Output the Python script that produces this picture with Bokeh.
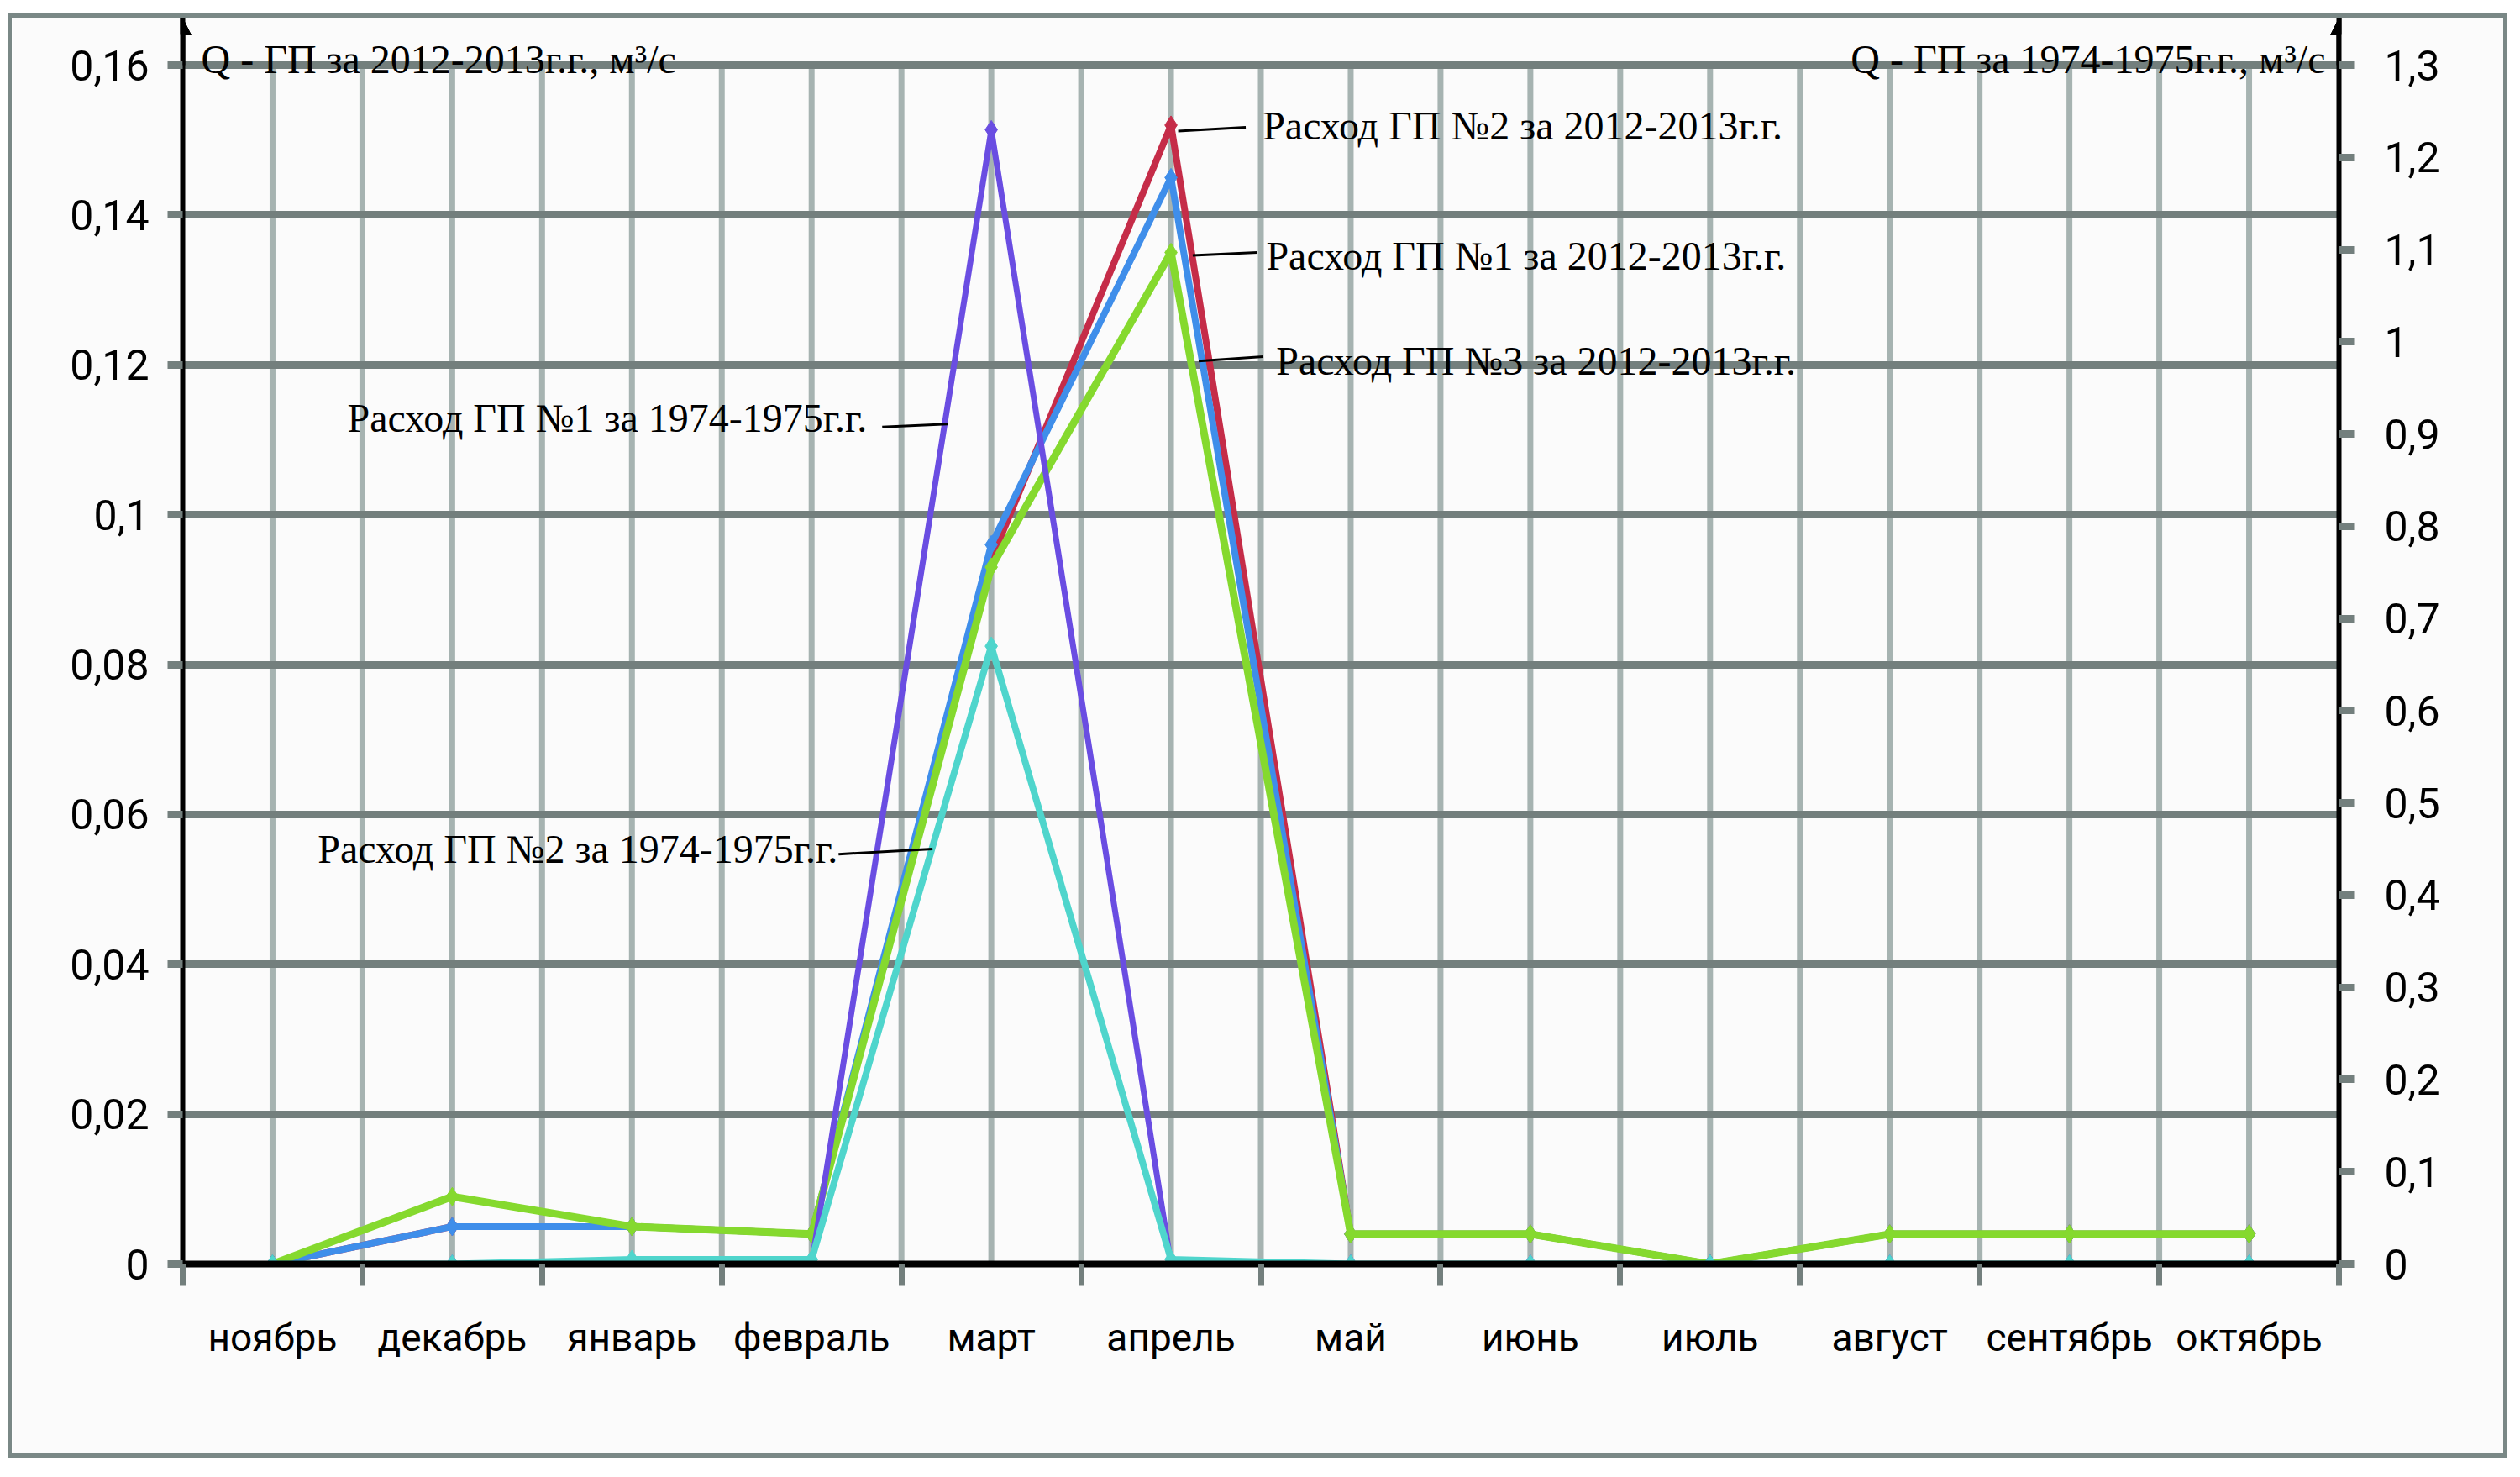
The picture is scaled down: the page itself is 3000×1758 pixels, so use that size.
from bokeh.plotting import figure
from bokeh.models import (Range1d, LinearAxis, FixedTicker, Arrow, NormalHead)
from bokeh.core.properties import value
from bokeh.embed import file_html
from bokeh.resources import INLINE

# ---------------- data ----------------
months = ["ноябрь", "декабрь", "январь", "февраль", "март", "апрель",
          "май", "июнь", "июль", "август", "сентябрь", "октябрь"]

# 2012-2013 (left axis, m3/s)
gp1_2012 = [0, 0.005, 0.005, 0.004, 0.096, 0.145, 0.004, 0.004, 0, 0.004, 0.004, 0.004]
gp2_2012 = [0, 0.005, 0.005, 0.004, 0.094, 0.152, 0.004, 0.004, 0, 0.004, 0.004, 0.004]
gp3_2012 = [0, 0.009, 0.005, 0.004, 0.093, 0.135, 0.004, 0.004, 0, 0.004, 0.004, 0.004]
# 1974-1975 (right axis, m3/s)
gp1_1974 = [0, 0, 0, 0, 1.23, 0, 0, 0, 0, 0, 0, 0]
gp2_1974 = [0, 0, 0.005, 0.005, 0.67, 0.005, 0, 0, 0, 0, 0, 0]

left_ticks = [0, 0.02, 0.04, 0.06, 0.08, 0.1, 0.12, 0.14, 0.16]
left_labels = ["0", "0,02", "0,04", "0,06", "0,08", "0,1", "0,12", "0,14", "0,16"]
right_ticks = [0, 0.1, 0.2, 0.3, 0.4, 0.5, 0.6, 0.7, 0.8, 0.9, 1.0, 1.1, 1.2, 1.3]
right_labels = ["0", "0,1", "0,2", "0,3", "0,4", "0,5", "0,6", "0,7", "0,8", "0,9",
                "1", "1,1", "1,2", "1,3"]

left_title = "Q - ГП за 2012-2013г.г., м³/с"
right_title = "Q - ГП за 1974-1975г.г., м³/с"

series_names = ["Расход ГП №2 за 2012-2013г.г.", "Расход ГП №1 за 2012-2013г.г.",
                "Расход ГП №3 за 2012-2013г.г.", "Расход ГП №1 за 1974-1975г.г.",
                "Расход ГП №2 за 1974-1975г.г."]

# ---------------- layout / style ----------------
x = list(range(len(months)))
LEFT_MAX = 0.16
RIGHT_MAX = 1.3
top_pad = 1.0393  # frame extends a little above the top gridline (room for titles/arrows)

DARK = "#737f7d"
LIGHT = "#a6b3b1"
BG = "#fbfbfb"
TICK_FONT = "Roboto"
SERIF = "Liberation Serif"

p = figure(width=2976, height=1719, output_backend="svg", toolbar_location=None,
           x_range=Range1d(-0.5, len(months) - 0.5),
           y_range=Range1d(0, LEFT_MAX * top_pad),
           min_border_left=203, min_border_right=206,
           min_border_top=0, min_border_bottom=236,
           background_fill_color=BG, border_fill_color=BG, outline_line_color=None)
p.margin = (16, 0, 0, 9)
p.styles = {"border": "5px solid #7a8886"}
p.extra_y_ranges = {"r": Range1d(0, RIGHT_MAX * top_pad)}

# x axis
xa = p.xaxis[0]
xa.ticker = FixedTicker(ticks=x, minor_ticks=[i - 0.5 for i in range(len(months) + 1)])
xa.major_label_overrides = {i: m for i, m in enumerate(months)}
xa.major_tick_out = 0
xa.major_tick_in = 0
xa.minor_tick_out = 26
xa.minor_tick_in = 0
xa.minor_tick_line_color = DARK
xa.minor_tick_line_width = 7
xa.axis_line_color = "black"
xa.axis_line_width = 8
xa.major_label_text_font = TICK_FONT
xa.major_label_text_font_size = "46px"
xa.major_label_text_color = "black"
xa.major_label_standoff = 34

# left axis
ya = p.yaxis[0]
ya.ticker = FixedTicker(ticks=left_ticks)
ya.major_label_overrides = dict(zip(left_ticks, left_labels))
ya.major_tick_out = 18
ya.major_tick_in = 0
ya.major_tick_line_color = DARK
ya.major_tick_line_width = 9
ya.minor_tick_out = 0
ya.minor_tick_in = 0
ya.axis_line_color = "black"
ya.axis_line_width = 6
ya.major_label_text_font = TICK_FONT
ya.major_label_text_font_size = "50px"
ya.major_label_text_color = "black"
ya.major_label_standoff = 22

# right axis
ra = LinearAxis(y_range_name="r")
ra.ticker = FixedTicker(ticks=right_ticks)
ra.major_label_overrides = dict(zip(right_ticks, right_labels))
ra.major_tick_out = 18
ra.major_tick_in = 0
ra.major_tick_line_color = DARK
ra.major_tick_line_width = 9
ra.minor_tick_out = 0
ra.minor_tick_in = 0
ra.axis_line_color = "black"
ra.axis_line_width = 6
ra.major_label_text_font = TICK_FONT
ra.major_label_text_font_size = "50px"
ra.major_label_text_color = "black"
ra.major_label_standoff = 36
p.add_layout(ra, "right")

# grids
p.xgrid.visible = False
p.ygrid.ticker = FixedTicker(ticks=left_ticks)
p.ygrid.grid_line_color = DARK
p.ygrid.grid_line_width = 9

# vertical grid lines (every half category), only up to the top gridline
vx = [i * 0.5 - 0.5 for i in range(1, 2 * len(months))]
p.segment(x0=vx, y0=[0] * len(vx), x1=vx, y1=[LEFT_MAX] * len(vx),
          line_color=LIGHT, line_width=7, level="underlay")

# axis arrows
for xe in (-0.5, len(months) - 0.5):
    p.add_layout(Arrow(end=NormalHead(size=20, fill_color="black", line_color="black"),
                       x_start=xe, y_start=LEFT_MAX, x_end=xe, y_end=LEFT_MAX * top_pad,
                       line_color="black", line_width=6))

# axis titles
p.text(x=[-0.5], y=[LEFT_MAX], text=[left_title], x_offset=22, y_offset=-7,
       text_font=value(SERIF), text_font_size="48px", text_color="black",
       text_align="left", text_baseline="alphabetic")
p.text(x=[len(months) - 0.5], y=[LEFT_MAX], text=[right_title], x_offset=-16, y_offset=-7,
       text_font=value(SERIF), text_font_size="48px", text_color="black",
       text_align="right", text_baseline="alphabetic")

# ---------------- series ----------------
series = [
    (gp2_2012, "#c52c48", "default", 8),
    (gp1_2012, "#3f8eea", "default", 8),
    (gp3_2012, "#85d92e", "default", 9),
    (gp1_1974, "#6a4de2", "r", 7),
    (gp2_1974, "#4fd5cc", "r", 8),
]
for vals, col, rng, lw in series:
    p.line(x, vals, line_color=col, line_width=lw, y_range_name=rng)
    p.scatter(x, vals, marker="diamond", size=22, fill_color=col, line_color=col,
              y_range_name=rng)

# ---------------- annotations with leader lines ----------------
ann_x = [5.51, 5.53, 5.585, 0.416, 0.252]
ann_y = [0.1519, 0.1346, 0.1205, 0.1129, 0.0554]
p.text(x=ann_x, y=ann_y, text=series_names,
       text_font=value(SERIF), text_font_size="48px", text_color="black",
       text_align="left", text_baseline="middle")

lead_x0 = [5.04, 5.121, 5.154, 3.393, 3.150]
lead_y0 = [0.1512, 0.1346, 0.1205, 0.1117, 0.0547]
lead_x1 = [5.416, 5.481, 5.514, 3.757, 3.673]
lead_y1 = [0.1517, 0.1350, 0.1211, 0.1121, 0.0554]
p.segment(x0=lead_x0, y0=lead_y0, x1=lead_x1, y1=lead_y1, line_color="black", line_width=3)

open("out.html", "w").write(file_html(p, INLINE))
